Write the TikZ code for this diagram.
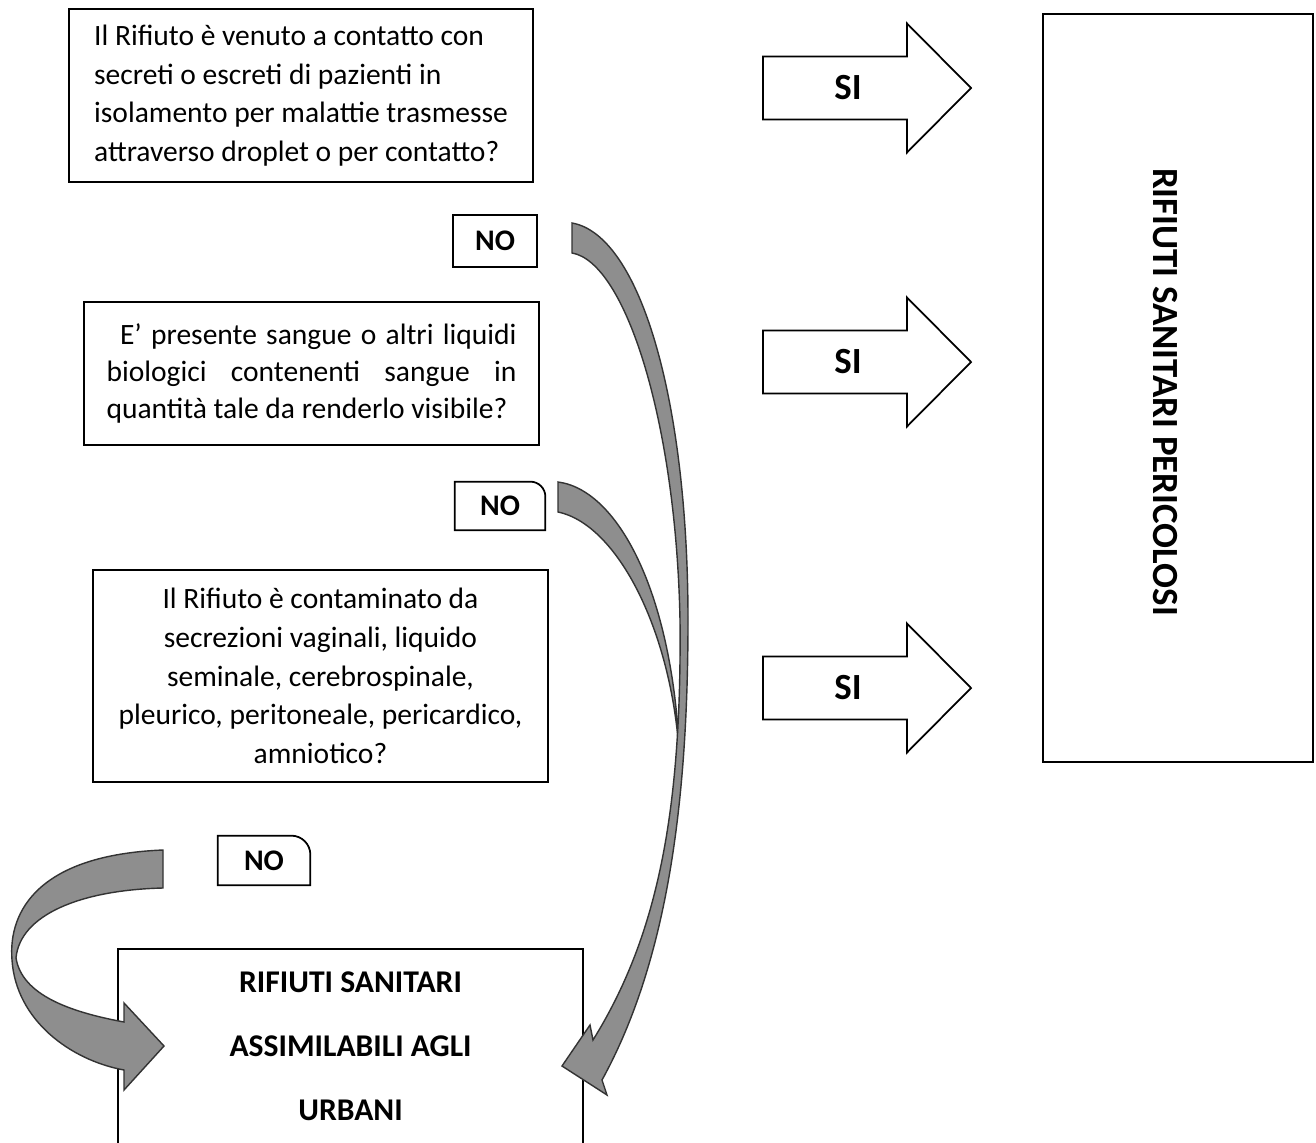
\documentclass[tikz,border=0pt]{standalone}
\usepackage{fontspec}
\setmainfont{Carlito}
\usetikzlibrary{positioning, calc}
\definecolor{ribbongray}{HTML}{8E8E8E}
\definecolor{ribbonline}{HTML}{333333}

\begin{document}
\begin{tikzpicture}[
    qbox/.style={draw, line width=1pt, inner xsep=0.45cm, font=\fontsize{16.8}{22}\selectfont},
    nobox/.style={font=\bfseries\fontsize{17}{19}\selectfont},
    ribbon/.style={fill=ribbongray, draw=ribbonline, line width=0.8pt},
    siarrow/.style={draw, line width=1pt, fill=white}]
  \useasboundingbox[fill=white] (0,0) rectangle (26.32,-22.86);

  % domande
  \node[qbox, align=left, minimum width=9.28cm, minimum height=3.46cm] (q1) at (6.02,-1.91)
    {Il Rifiuto è venuto a contatto con\\secreti o escreti di pazienti in\\isolamento per malattie trasmesse\\attraverso droplet o per contatto?};
  \node[qbox, text width=8.2cm, align=justify, minimum height=2.86cm, font=\fontsize{16.8}{21}\selectfont] (q2) at (6.23,-7.47)
    {\hspace*{0.27cm}E’ presente sangue o altri liquidi\linebreak biologici contenenti sangue in\linebreak quantità tale da renderlo visibile?};
  \node[qbox, align=center, minimum width=9.1cm, minimum height=4.24cm] (q3) at (6.41,-13.52)
    {Il Rifiuto è contaminato da\\secrezioni vaginali, liquido\\seminale, cerebrospinale,\\pleurico, peritoneale, pericardico,\\amniotico?};

  % risposte NO
  \node[nobox, draw, line width=1pt, minimum width=1.68cm, minimum height=1.04cm] (no1) at (9.90,-4.82) {NO};
  \node[nobox, minimum width=1.80cm, minimum height=0.96cm] (no2) at (10.00,-10.12) {NO};
  \draw[line width=1pt] (no2.south west) |- ([xshift=-0.3cm]no2.north east)
    arc[start angle=90, end angle=0, radius=0.3cm] -- (no2.south east) -- cycle;
  \node[nobox, minimum width=1.84cm, minimum height=0.98cm] (no3) at (5.28,-17.21) {NO};
  \draw[line width=1pt] (no3.south west) |- ([xshift=-0.38cm]no3.north east)
    arc[start angle=90, end angle=0, radius=0.38cm] -- (no3.south east) -- cycle;

  % esiti
  \draw[line width=1pt] (2.36,-22.95) |- (11.66,-18.98) -- (11.66,-22.95);
  \node[font=\bfseries\fontsize{18}{36.4}\selectfont, align=center] (urb) at (7.01,-20.92)
    {RIFIUTI SANITARI\\ASSIMILABILI AGLI\\URBANI};
  \draw[line width=1pt] (20.86,-0.28) rectangle (26.26,-15.24);
  \node[rotate=-90, font=\bfseries\fontsize{21}{25}\selectfont] (per) at (23.30,-7.84)
    {RIFIUTI SANITARI PERICOLOSI};

  % frecce SI
  \foreach \y/\s in {-1.76/si1, -7.24/si2, -13.76/si3} {
    \draw[siarrow] (15.26,\y+0.63) -- (18.14,\y+0.63) -- (18.14,\y+1.29) -- (19.42,\y)
      -- (18.14,\y-1.29) -- (18.14,\y-0.63) -- (15.26,\y-0.63) -- cycle;
    \node[font=\bfseries\fontsize{21}{24}\selectfont] (\s) at (16.96,\y) {SI};
  }

  % frecce curve NO
  \draw[ribbon] (11.16,-9.64) .. controls (12.40,-9.80) and (13.52,-12.00) .. (13.60,-15.40)
    .. controls (13.52,-12.80) and (12.40,-10.50) .. (11.16,-10.24) -- cycle;
  \draw[ribbon] (11.44,-4.46) .. controls (12.80,-4.70) and (13.76,-8.00) .. (13.76,-12.40)
    .. controls (13.76,-16.00) and (13.36,-19.20) .. (12.04,-21.60)
    -- (12.14,-21.90) -- (11.24,-21.32) -- (11.80,-20.50) -- (11.86,-20.80)
    .. controls (13.10,-18.80) and (13.64,-16.40) .. (13.60,-12.40)
    .. controls (13.52,-8.40) and (12.50,-5.24) .. (11.44,-5.06) -- cycle;
  \draw[ribbon] (3.26,-17.00) .. controls (0.80,-17.10) and (0.16,-18.20) .. (0.24,-19.20)
    .. controls (0.32,-20.40) and (1.40,-21.20) .. (2.48,-21.40)
    -- (2.48,-21.80) -- (3.28,-20.92) -- (2.48,-20.06) -- (2.48,-20.44)
    .. controls (1.40,-20.24) and (0.44,-19.90) .. (0.32,-19.16)
    .. controls (0.40,-18.30) and (1.60,-17.80) .. (3.26,-17.76) -- cycle;
\end{tikzpicture}
\end{document}
